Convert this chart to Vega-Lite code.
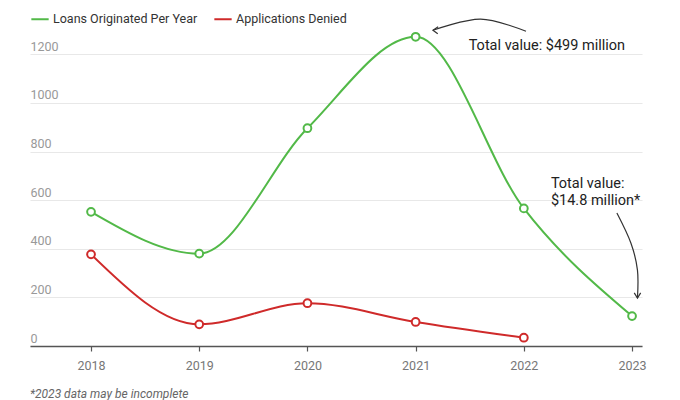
{
  "$schema": "https://vega.github.io/schema/vega-lite/v6.json",
  "width": 612,
  "height": 316,
  "autosize": {"type": "none"},
  "padding": {"left": 30, "top": 30, "right": 38, "bottom": 54},
  "background": "white",
  "config": {
    "font": "Roboto",
    "view": {"stroke": null}
  },
  "title": {
    "text": "*2023 data may be incomplete",
    "orient": "bottom",
    "anchor": "start",
    "fontStyle": "italic",
    "fontWeight": "normal",
    "fontSize": 12,
    "color": "#666",
    "offset": 17,
    "frame": "group"
  },
  "layer": [
    {
      "data": {"values": [
        {"year": 2018, "series": "Loans Originated Per Year", "value": 552},
        {"year": 2019, "series": "Loans Originated Per Year", "value": 380},
        {"year": 2020, "series": "Loans Originated Per Year", "value": 896},
        {"year": 2021, "series": "Loans Originated Per Year", "value": 1272},
        {"year": 2022, "series": "Loans Originated Per Year", "value": 566},
        {"year": 2023, "series": "Loans Originated Per Year", "value": 123},
        {"year": 2018, "series": "Applications Denied", "value": 377},
        {"year": 2019, "series": "Applications Denied", "value": 89},
        {"year": 2020, "series": "Applications Denied", "value": 176},
        {"year": 2021, "series": "Applications Denied", "value": 99},
        {"year": 2022, "series": "Applications Denied", "value": 34}
      ]},
      "encoding": {
        "x": {
          "field": "year", "type": "quantitative",
          "scale": {"domain": [2017.436, 2023.092], "nice": false, "zero": false},
          "axis": {
            "values": [2018, 2019, 2020, 2021, 2022, 2023],
            "format": "d",
            "title": null,
            "grid": false,
            "domainColor": "#555",
            "domainWidth": 1.5,
            "tickColor": "#555",
            "tickSize": 5,
            "tickWidth": 1.2,
            "labelColor": "#777",
            "labelFontSize": 12.5,
            "labelPadding": 8
          }
        },
        "y": {
          "field": "value", "type": "quantitative",
          "scale": {"domain": [0, 1300], "nice": false},
          "axis": {
            "values": [0, 200, 400, 600, 800, 1000, 1200],
            "format": "d",
            "title": null,
            "domain": false,
            "ticks": false,
            "tickSize": 0,
            "labelAlign": "left",
            "labelBaseline": "alphabetic",
            "labelPadding": 0,
            "labelOffset": -4,
            "labelColor": "#999",
            "labelFontSize": 12.5,
            "gridColor": "#e8e8e8",
            "gridWidth": 1.2
          }
        },
        "color": {
          "field": "series", "type": "nominal",
          "scale": {"domain": ["Loans Originated Per Year", "Applications Denied"], "range": ["#52b948", "#cf2a2a"]},
          "legend": {
            "title": null,
            "orient": "none",
            "legendX": 0,
            "legendY": -21,
            "direction": "horizontal",
            "symbolType": "stroke",
            "symbolSize": 300,
            "symbolStrokeWidth": 2,
            "labelFontSize": 12.5,
            "labelColor": "#333",
            "labelOffset": 3,
            "columnPadding": 12
          }
        }
      },
      "layer": [
        {"mark": {"type": "line", "interpolate": "monotone", "strokeWidth": 2}},
        {"mark": {"type": "point", "filled": false, "fill": "white", "fillOpacity": 1, "opacity": 1, "size": 60, "strokeWidth": 2}}
      ]
    },
    {
      "data": {"values": [
        {"x": 2022.02, "y": 1295, "o": 1},
        {"x": 2021.6, "y": 1345, "o": 2},
        {"x": 2021.16, "y": 1299, "o": 3}
      ]},
      "mark": {"type": "line", "interpolate": "cardinal", "color": "#333", "strokeWidth": 1.2},
      "encoding": {
        "x": {"field": "x", "type": "quantitative"},
        "y": {"field": "y", "type": "quantitative"},
        "order": {"field": "o"}
      }
    },
    {
      "data": {"values": [
        {"x": 2022.86, "y": 547, "o": 1},
        {"x": 2022.99, "y": 423, "o": 2},
        {"x": 2023.05, "y": 312, "o": 3},
        {"x": 2023.05, "y": 197, "o": 4}
      ]},
      "mark": {"type": "line", "interpolate": "cardinal", "color": "#333", "strokeWidth": 1.2},
      "encoding": {
        "x": {"field": "x", "type": "quantitative"},
        "y": {"field": "y", "type": "quantitative"},
        "order": {"field": "o"}
      }
    },
    {
      "data": {"values": [{"x": 2021.16, "y": 1299}]},
      "mark": {"type": "point", "shape": "M1.3,-0.9L0,0L1.2,0.9", "filled": false, "stroke": "#333", "strokeWidth": 1.2, "size": 64, "opacity": 1},
      "encoding": {
        "x": {"field": "x", "type": "quantitative"},
        "y": {"field": "y", "type": "quantitative"}
      }
    },
    {
      "data": {"values": [{"x": 2023.05, "y": 197}]},
      "mark": {"type": "point", "shape": "M-0.8,-1.3L0,0L0.8,-1.3", "filled": false, "stroke": "#333", "strokeWidth": 1.2, "size": 64, "opacity": 1},
      "encoding": {
        "x": {"field": "x", "type": "quantitative"},
        "y": {"field": "y", "type": "quantitative"}
      }
    },
    {
      "data": {"values": [
        {"x": 2021.49, "y": 1217, "label": "Total value: $499 million"},
        {"x": 2022.25, "y": 650, "label": "Total value:\n$14.8 million*"}
      ]},
      "mark": {"type": "text", "align": "left", "baseline": "alphabetic", "fontSize": 14.5, "color": "#222", "lineBreak": "\n", "lineHeight": 17},
      "encoding": {
        "x": {"field": "x", "type": "quantitative"},
        "y": {"field": "y", "type": "quantitative"},
        "text": {"field": "label"}
      }
    }
  ]
}
